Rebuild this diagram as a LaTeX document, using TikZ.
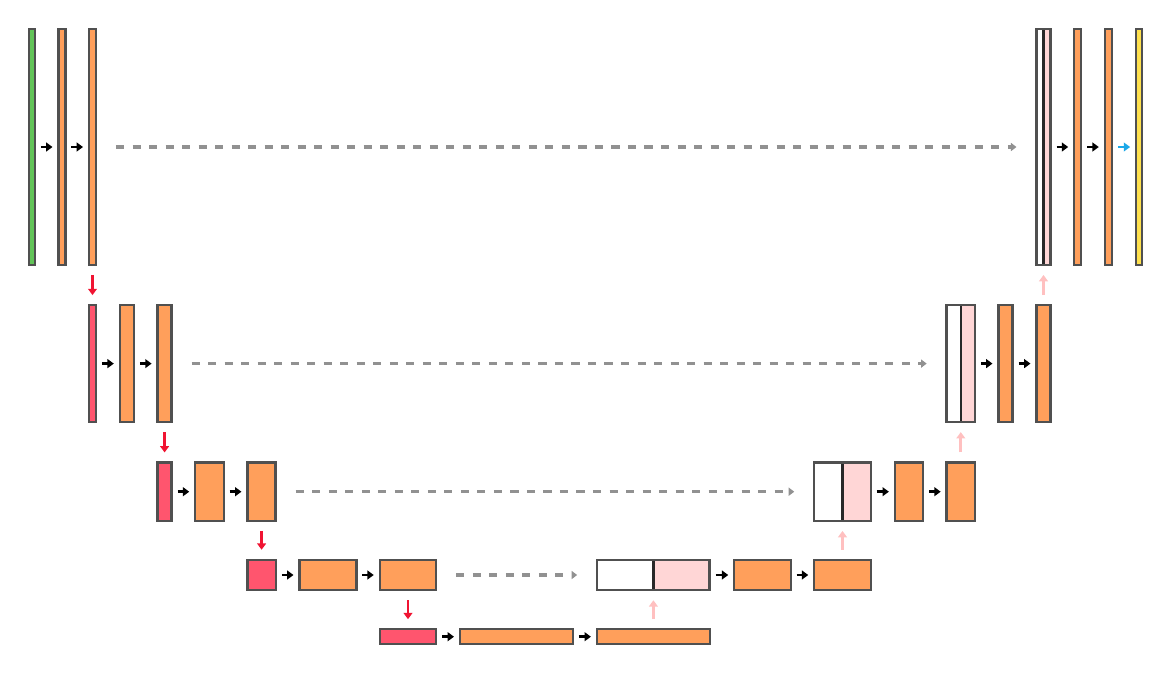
\documentclass[tikz,border=0pt]{standalone}
\usepackage{tikz}
\usetikzlibrary{arrows.meta}

\definecolor{edgec}{RGB}{80,80,80}
\definecolor{divc}{RGB}{40,40,40}
\definecolor{convc}{RGB}{255,159,91}
\definecolor{poolc}{RGB}{255,85,110}
\definecolor{inc}{RGB}{98,196,88}
\definecolor{outc}{RGB}{255,225,77}
\definecolor{upc}{RGB}{255,214,214}
\definecolor{skipc}{RGB}{145,145,145}
\definecolor{downc}{RGB}{240,20,50}
\definecolor{uparc}{RGB}{255,192,192}
\definecolor{finc}{RGB}{28,168,232}

\begin{document}
\begin{tikzpicture}[x=0.02cm, y=-0.02cm,
    every node/.style={draw=edgec, line width=1.4pt, inner sep=0pt, outer sep=0pt, fill=convc},
    lv1/.style={minimum height=4.72cm},
    lv2/.style={minimum height=2.34cm},
    lv3/.style={minimum height=1.17cm},
    lv4/.style={minimum height=0.61cm},
    lv5/.style={minimum height=0.30cm},
    cat/.style={fill=white, path picture={
        \fill[upc] (path picture bounding box.south) rectangle (path picture bounding box.north east);
        \draw[divc, line width=1.4pt] (path picture bounding box.south) -- (path picture bounding box.north);}},
    conv/.style={-{Triangle[length=3.6pt,width=5pt]}, line width=1.6pt, shorten <=0.12cm, shorten >=0.12cm},
    skip/.style={-{Triangle[length=3.2pt,width=4.6pt]}, skipc, line width=1.9pt, dash pattern=on 4.6pt off 4.8pt, shorten <=0.4cm, shorten >=0.4cm},
    down/.style={-{Triangle[length=3.6pt,width=5pt]}, downc, line width=1.6pt, shorten <=0.2cm, shorten >=0.2cm},
    up/.style={-{Triangle[length=3.6pt,width=5pt]}, uparc, line width=1.6pt, shorten <=0.2cm, shorten >=0.2cm}]
    \useasboundingbox (0,0) rectangle (1171,674);

    \node[lv1, fill=inc, minimum width=0.12cm] (in1) at (32,147) {};
    \node[lv1, minimum width=0.14cm] (c1a) at (62,147) {};
    \node[lv1, minimum width=0.14cm] (c1b) at (92.5,147) {};
    \node[lv1, cat, minimum width=0.28cm] (cat1) at (1043.5,147) {};
    \node[lv1, minimum width=0.14cm] (d1a) at (1077.7,147) {};
    \node[lv1, minimum width=0.14cm] (d1b) at (1108.3,147) {};
    \node[lv1, fill=outc, minimum width=0.115cm] (out) at (1139,147) {};

    \node[lv2, fill=poolc, minimum width=0.14cm] (p2) at (92.5,363.6) {};
    \node[lv2, minimum width=0.28cm] (c2a) at (126.8,363.6) {};
    \node[lv2, minimum width=0.28cm] (c2b) at (164.6,363.6) {};
    \node[lv2, cat, minimum width=0.565cm] (cat2) at (960.8,363.6) {};
    \node[lv2, minimum width=0.28cm] (d2a) at (1005.5,363.6) {};
    \node[lv2, minimum width=0.28cm] (d2b) at (1043.5,363.6) {};

    \node[lv3, fill=poolc, minimum width=0.28cm] (p3) at (164.6,491.7) {};
    \node[lv3, minimum width=0.57cm] (c3a) at (209.5,491.7) {};
    \node[lv3, minimum width=0.565cm] (c3b) at (261.6,491.7) {};
    \node[lv3, cat, minimum width=1.13cm] (cat3) at (842.5,491.7) {};
    \node[lv3, minimum width=0.565cm] (d3a) at (909,491.7) {};
    \node[lv3, minimum width=0.565cm] (d3b) at (960.8,491.7) {};

    \node[lv4, fill=poolc, minimum width=0.57cm] (p4) at (261.6,575) {};
    \node[lv4, minimum width=1.14cm] (c4a) at (328,575) {};
    \node[lv4, minimum width=1.13cm] (c4b) at (408,575) {};
    \node[lv4, cat, minimum width=2.25cm] (cat4) at (653.4,575) {};
    \node[lv4, minimum width=1.13cm] (d4a) at (762.5,575) {};
    \node[lv4, minimum width=1.13cm] (d4b) at (842.5,575) {};

    \node[lv5, fill=poolc, minimum width=1.13cm] (p5) at (408,636.7) {};
    \node[lv5, minimum width=2.26cm] (c5a) at (516.5,636.7) {};
    \node[lv5, minimum width=2.26cm] (c5b) at (653.4,636.7) {};

    \draw[conv] (in1) -- (c1a);
    \draw[conv] (c1a) -- (c1b);
    \draw[conv] (cat1) -- (d1a);
    \draw[conv] (d1a) -- (d1b);
    \draw[conv, finc] (d1b) -- (out);
    \draw[conv] (p2) -- (c2a);
    \draw[conv] (c2a) -- (c2b);
    \draw[conv] (cat2) -- (d2a);
    \draw[conv] (d2a) -- (d2b);
    \draw[conv] (p3) -- (c3a);
    \draw[conv] (c3a) -- (c3b);
    \draw[conv] (cat3) -- (d3a);
    \draw[conv] (d3a) -- (d3b);
    \draw[conv] (p4) -- (c4a);
    \draw[conv] (c4a) -- (c4b);
    \draw[conv] (cat4) -- (d4a);
    \draw[conv] (d4a) -- (d4b);
    \draw[conv] (p5) -- (c5a);
    \draw[conv] (c5a) -- (c5b);

    \draw[skip] (c1b) -- (cat1);
    \draw[skip] (c2b) -- (cat2);
    \draw[skip] (c3b) -- (cat3);
    \draw[skip] (c4b) -- (cat4);

    \draw[down] (c1b) -- (p2);
    \draw[down] (c2b) -- (p3);
    \draw[down] (c3b) -- (p4);
    \draw[down] (c4b) -- (p5);

    \draw[up] (c5b) -- (cat4);
    \draw[up] (d4b) -- (cat3);
    \draw[up] (d3b) -- (cat2);
    \draw[up] (d2b) -- (cat1);
\end{tikzpicture}
\end{document}
